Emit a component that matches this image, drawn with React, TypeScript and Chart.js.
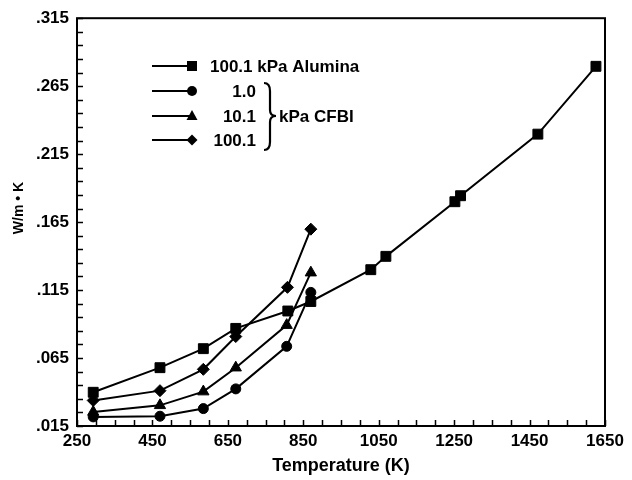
import React, { useEffect, useRef } from "react";
import { Chart, registerables } from "chart.js";

Chart.register(...registerables);

// Alumina, 100.1 kPa
const aluminaT = [293, 470, 585, 671, 809, 870, 1029, 1069, 1252, 1267, 1472, 1626];
const aluminaK = [0.0398, 0.0579, 0.0719, 0.0868, 0.0996, 0.1066, 0.130, 0.1398, 0.180, 0.1844, 0.2297, 0.2796];
// CFBI 1.0 kPa
const cfbi1T = [293, 470, 585, 671, 806, 870];
const cfbi1K = [0.0217, 0.0222, 0.0278, 0.0423, 0.0736, 0.1133];
// CFBI 10.1 kPa
const cfbi10T = [293, 470, 585, 671, 806, 870];
const cfbi10K = [0.0253, 0.0302, 0.0403, 0.0579, 0.0892, 0.1278];
// CFBI 100.1 kPa
const cfbi100T = [293, 470, 585, 671, 808, 870];
const cfbi100K = [0.0338, 0.041, 0.0567, 0.0808, 0.117, 0.1598];

const xTicks = [250, 450, 650, 850, 1050, 1250, 1450, 1650];
const yTicks = [0.015, 0.065, 0.115, 0.165, 0.215, 0.265, 0.315];
const xTitle = "Temperature (K)";
const yTitle = "W/m \u2022 K";
const legendLabels = ["100.1 kPa Alumina", "1.0", "10.1", "100.1"];
const legendGroup = "kPa CFBI";

const FONT = "'Liberation Sans', Arial, Helvetica, sans-serif";

const pts = (xs: number[], ys: number[]) => xs.map((x, i) => ({ x, y: ys[i] }));

function drawMarker(ctx: CanvasRenderingContext2D, style: string, x: number, y: number) {
  ctx.beginPath();
  if (style === "rect") {
    ctx.rect(x - 5, y - 5, 10, 10);
  } else if (style === "circle") {
    ctx.arc(x, y, 5, 0, Math.PI * 2);
  } else if (style === "triangle") {
    ctx.moveTo(x, y - 6);
    ctx.lineTo(x + 5.5, y + 4);
    ctx.lineTo(x - 5.5, y + 4);
    ctx.closePath();
  } else {
    ctx.moveTo(x, y - 5.5);
    ctx.lineTo(x + 5.5, y);
    ctx.lineTo(x, y + 5.5);
    ctx.lineTo(x - 5.5, y);
    ctx.closePath();
  }
  ctx.fill();
}

const decor = {
  id: "decor",
  afterDraw(chart: any) {
    const { ctx, chartArea: a, scales } = chart;
    const xs = scales.x;
    const ys = scales.y;
    ctx.save();
    ctx.strokeStyle = "#000";
    ctx.fillStyle = "#000";
    // inner ticks
    ctx.lineWidth = 1.5;
    ctx.beginPath();
    for (let v = 250; v <= 1650; v += 50) {
      const px = Math.round(xs.getPixelForValue(v)) + 0.5;
      ctx.moveTo(px, a.bottom);
      ctx.lineTo(px, a.bottom - 6);
    }
    for (let i = 0; i <= 30; i++) {
      const v = 0.015 + i * 0.01;
      const py = Math.round(ys.getPixelForValue(v)) + 0.5;
      ctx.moveTo(a.left, py);
      ctx.lineTo(a.left + 6, py);
    }
    ctx.stroke();
    // frame
    ctx.lineWidth = 2;
    ctx.strokeRect(a.left, a.top, a.right - a.left, a.bottom - a.top);

    // y title
    ctx.save();
    ctx.translate(19, 208);
    ctx.rotate(-Math.PI / 2);
    ctx.font = `bold 14px ${FONT}`;
    ctx.textAlign = "center";
    ctx.textBaseline = "middle";
    ctx.fillText(yTitle, 0, 0);
    ctx.restore();

    // legend
    const rows = [66, 91, 116, 140];
    const styles = ["rect", "circle", "triangle", "rectRot"];
    ctx.lineWidth = 2;
    ctx.font = `bold 17px ${FONT}`;
    ctx.textBaseline = "middle";
    rows.forEach((ry, i) => {
      ctx.beginPath();
      ctx.moveTo(152, ry);
      ctx.lineTo(192, ry);
      ctx.stroke();
      drawMarker(ctx, styles[i], 192, ry);
      if (i === 0) {
        ctx.textAlign = "left";
        ctx.fillText(legendLabels[i], 210, ry + 1);
      } else {
        ctx.textAlign = "right";
        ctx.fillText(legendLabels[i], 256, ry + 1);
      }
    });
    // brace
    const bx = 264, top = 83, bot = 150, mid = 116;
    ctx.lineWidth = 2.2;
    ctx.beginPath();
    ctx.moveTo(bx, top);
    ctx.quadraticCurveTo(bx + 6, top, bx + 6, top + 8);
    ctx.lineTo(bx + 6, mid - 6);
    ctx.quadraticCurveTo(bx + 6, mid, bx + 12, mid);
    ctx.quadraticCurveTo(bx + 6, mid, bx + 6, mid + 6);
    ctx.lineTo(bx + 6, bot - 8);
    ctx.quadraticCurveTo(bx + 6, bot, bx, bot);
    ctx.stroke();
    ctx.textAlign = "left";
    ctx.fillText(legendGroup, 279, mid + 1);
    ctx.restore();
  },
};

export default function App() {
  const ref = useRef<HTMLCanvasElement | null>(null);
  useEffect(() => {
    if (!ref.current) return;
    const common = {
      borderColor: "#000",
      backgroundColor: "#000",
      pointBackgroundColor: "#000",
      pointBorderColor: "#000",
      borderWidth: 2,
      pointBorderWidth: 1,
      tension: 0,
      fill: false,
    };
    const chart = new Chart(ref.current, {
      type: "line",
      data: {
        datasets: [
          { ...common, label: legendLabels[0], data: pts(aluminaT, aluminaK), pointStyle: "rect", pointRadius: 7 },
          { ...common, label: legendLabels[1], data: pts(cfbi1T, cfbi1K), pointStyle: "circle", pointRadius: 5 },
          { ...common, label: legendLabels[2], data: pts(cfbi10T, cfbi10K), pointStyle: "triangle", pointRadius: 6.5 },
          { ...common, label: legendLabels[3], data: pts(cfbi100T, cfbi100K), pointStyle: "rectRot", pointRadius: 6 },
        ],
      },
      options: {
        animation: false,
        responsive: true,
        maintainAspectRatio: false,
        layout: { padding: { left: 0, top: 11, right: 27, bottom: 0 } },
        plugins: { legend: { display: false }, tooltip: { enabled: false } },
        scales: {
          x: {
            type: "linear",
            min: 250,
            max: 1650,
            afterBuildTicks: (s: any) => {
              s.ticks = xTicks.map((v) => ({ value: v }));
            },
            afterFit: (s: any) => {
              s.height = 54;
            },
            grid: { display: false, drawTicks: false },
            border: { display: false },
            ticks: {
              color: "#000",
              padding: 5,
              maxRotation: 0,
              autoSkip: false,
              font: { family: FONT, size: 17, weight: "bold" },
              callback: (v: any) => String(v),
            },
            title: {
              display: true,
              text: xTitle,
              color: "#000",
              font: { family: FONT, size: 18, weight: "bold" },
              padding: { top: 0, bottom: 3 },
            },
          },
          y: {
            type: "linear",
            min: 0.015,
            max: 0.315,
            afterBuildTicks: (s: any) => {
              s.ticks = yTicks.map((v) => ({ value: v }));
            },
            afterFit: (s: any) => {
              s.width = 77;
            },
            grid: { display: false, drawTicks: false },
            border: { display: false },
            ticks: {
              color: "#000",
              padding: 8,
              autoSkip: false,
              font: { family: FONT, size: 17, weight: "bold" },
              callback: (v: any) => Number(v).toFixed(3).replace(/^0/, ""),
            },
          },
        },
      },
      plugins: [decor],
    } as any);
    return () => chart.destroy();
  }, []);
  return (
    <div style={{ position: "fixed", left: 0, top: 0, width: 632, height: 480, background: "#fff" }}>
      <canvas ref={ref} />
    </div>
  );
}
